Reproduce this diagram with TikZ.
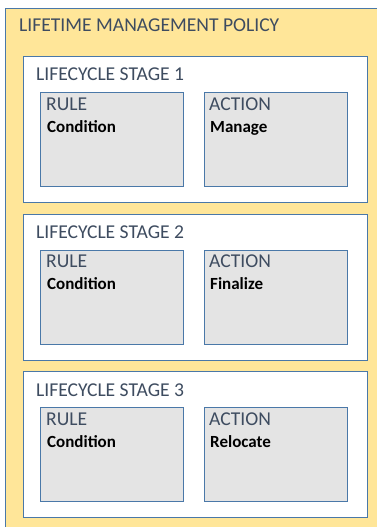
\documentclass[tikz,border=0pt]{standalone}
\usepackage{fontspec}
\setmainfont{Carlito}
\usepackage{tikz}
\usetikzlibrary{positioning}
\definecolor{policyyellow}{HTML}{FFE699}
\definecolor{boxblue}{HTML}{4A78A8}
\definecolor{headgray}{HTML}{3E4C60}
\definecolor{rulegray}{HTML}{E4E4E4}

\begin{document}
\begin{tikzpicture}[x=1pt, y=-1pt,
    policybox/.style={draw=boxblue, line width=1.4pt, fill=policyyellow, anchor=north west, inner sep=0pt, minimum width=390pt, minimum height=530pt},
    stagebox/.style={draw=boxblue, line width=1.4pt, fill=white, anchor=north west, inner sep=0pt, minimum width=344pt, minimum height=146pt},
    itembox/.style={draw=boxblue, line width=1.4pt, fill=rulegray, anchor=north west, inner sep=0pt, minimum width=143pt, minimum height=94pt},
    headtext/.style={text=headgray, font=\fontsize{19.6}{22}\selectfont, anchor=base west, inner sep=0pt},
    bodytext/.style={text=black, font=\fontsize{17}{20}\selectfont\bfseries, anchor=base west, inner sep=0pt}]
  \clip (0,0) rectangle (377,527);
  \node[policybox] (policy) at (5,8) {};
  \node[headtext] (policytitle) at (19,32) {LIFETIME MANAGEMENT POLICY};

  \foreach \i/\act in {1/Manage, 2/Finalize, 3/Relocate} {
    \pgfmathsetmacro{\top}{56+157.5*(\i-1)}
    \node[stagebox] (stage\i) at (23,\top) {};
    \node[headtext] (stagename\i) at ([xshift=13pt, yshift=-25pt]stage\i.north west) {LIFECYCLE STAGE \i};
    \node[itembox] (rule\i) at ([xshift=17pt, yshift=-36pt]stage\i.north west) {};
    \node[itembox] (action\i) at ([xshift=181pt, yshift=-36pt]stage\i.north west) {};
    \node[headtext] (rulename\i) at ([xshift=6pt, yshift=-18pt]rule\i.north west) {RULE};
    \node[bodytext] (condition\i) at ([xshift=7pt, yshift=-40pt]rule\i.north west) {Condition};
    \node[headtext] (actionname\i) at ([xshift=5pt, yshift=-18pt]action\i.north west) {ACTION};
    \node[bodytext] (actionverb\i) at ([xshift=6pt, yshift=-40pt]action\i.north west) {\act};
  }
\end{tikzpicture}
\end{document}
